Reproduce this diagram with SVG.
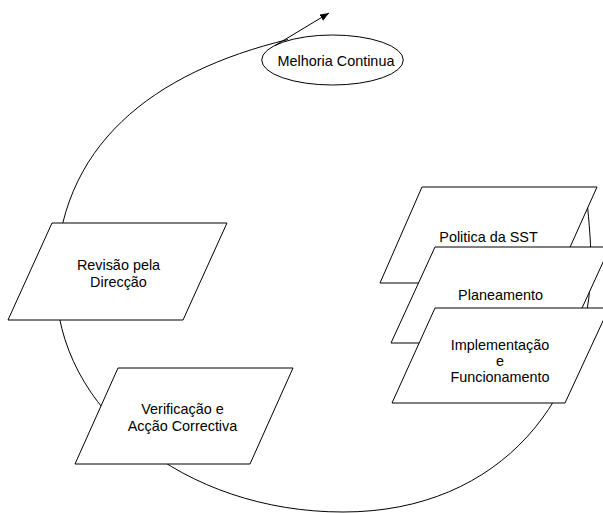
<svg xmlns="http://www.w3.org/2000/svg" width="603" height="513" viewBox="0 0 603 513">
<style>
.shape{fill:#ffffff;stroke:#000000;stroke-width:1}
.line{fill:none;stroke:#000000;stroke-width:1}
text{font-family:"Liberation Sans",Arial,sans-serif;font-size:14.4px;fill:#000000;text-anchor:middle}
</style>
<defs>
<marker id="arrow" markerUnits="userSpaceOnUse" markerWidth="10" markerHeight="8" refX="9" refY="3.5" orient="auto">
<path d="M0,0 L9,3.5 L0,7 z" fill="#000000"/>
</marker>
</defs>
<rect width="603" height="513" fill="#ffffff"/>
<g id="connectors">
<path class="line" d="M586,192 C588,210 591,240 591,262 C591,395 503,512 343,512 C185,512 56,410 56,282 C56,145 154,72 288,39.5"/>
</g>
<g id="node-melhoria">
<ellipse class="shape" cx="332.5" cy="60" rx="70.8" ry="25"/>
<text x="336" y="66">Melhoria Continua</text>
</g>
<g id="connector-arrow">
<path class="line" d="M275,45.5 L329,13" marker-end="url(#arrow)"/>
</g>
<g id="node-politica">
<polygon class="shape" points="422,187 597,187 554,283 380,283"/>
<text x="488.5" y="242">Politica da SST</text>
</g>
<g id="node-planeamento">
<polygon class="shape" points="435,247 610,247 566,343 391,343"/>
<text x="500.5" y="300">Planeamento</text>
</g>
<g id="node-implementacao">
<polygon class="shape" points="435,308 609,308 565,403 392,403"/>
<text x="500" y="350">Implementação</text>
<text x="500" y="366">e</text>
<text x="500" y="382">Funcionamento</text>
</g>
<g id="node-revisao">
<polygon class="shape" points="52,223 227,223 183,320 8,320"/>
<text x="118.5" y="270">Revisão pela</text>
<text x="118.5" y="287">Direcção</text>
</g>
<g id="node-verificacao">
<polygon class="shape" points="118,368 293,368 250,464 75,464"/>
<text x="182.5" y="414">Verificação e</text>
<text x="182.5" y="430.5">Acção Correctiva</text>
</g>
</svg>
